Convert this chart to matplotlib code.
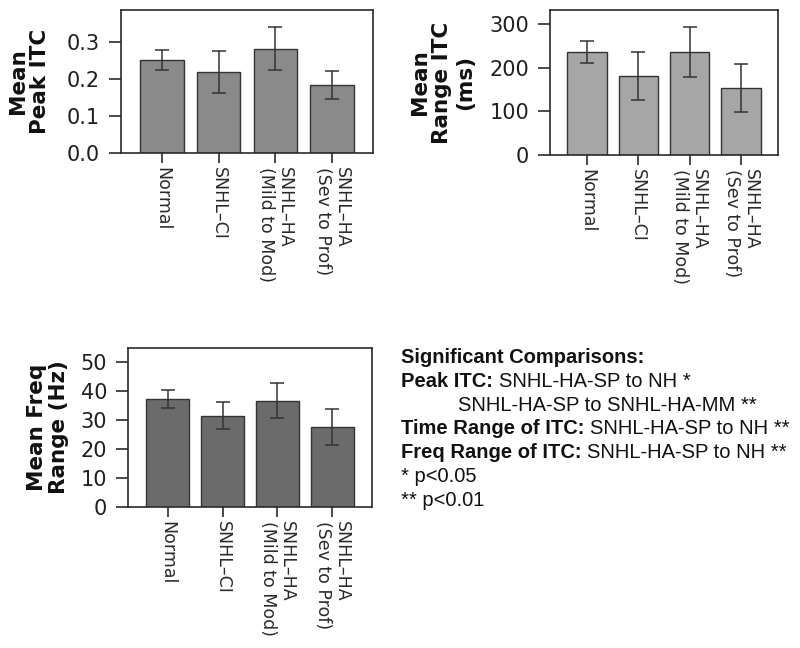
import matplotlib
matplotlib.use("Agg")
import matplotlib.pyplot as plt
from matplotlib.text import Annotation
import numpy as np

# ---------------- data ----------------
groups = ["Normal", "SNHL–CI", "SNHL–HA\n(Mild to Mod)", "SNHL–HA\n(Sev to Prof)"]

peak_itc = [0.252, 0.219, 0.282, 0.184]
peak_itc_err = [0.028, 0.057, 0.058, 0.038]

range_itc = [235, 181, 235, 154]
range_itc_err = [25, 55, 57, 55]

freq_range = [37.4, 31.6, 36.8, 27.8]
freq_range_err = [3.2, 4.6, 6.1, 6.2]

panel_ylabels = ["Mean\nPeak ITC", "Mean\nRange ITC\n(ms)", "Mean Freq\nRange (Hz)"]
panel_yticks = [[0.0, 0.1, 0.2, 0.3], [0, 100, 200, 300], [0, 10, 20, 30, 40, 50]]
panel_ylims = [(0, 0.387), (0, 332), (0, 55)]

note_lines = [
    ("Significant Comparisons:", ""),
    ("Peak ITC: ", "SNHL-HA-SP to NH *"),
    ("", "SNHL-HA-SP to SNHL-HA-MM **"),
    ("Time Range of ITC: ", "SNHL-HA-SP to NH **"),
    ("Freq Range of ITC: ", "SNHL-HA-SP to NH **"),
    ("", "* p<0.05"),
    ("", "** p<0.01"),
]

# ---------------- figure ----------------
W, H = 800, 648
fig = plt.figure(figsize=(W / 100, H / 100), dpi=100)

def px_axes(left, top, right, bottom):
    return fig.add_axes([left / W, 1 - bottom / H, (right - left) / W, (bottom - top) / H])

axes_px = [(121, 10, 373, 153), (550, 10, 778, 155), (128, 348, 372, 507)]
bar_colors = ["#8a8a8a", "#a6a6a6", "#6b6b6b"]
values = [peak_itc, range_itc, freq_range]
errors = [peak_itc_err, range_itc_err, freq_range_err]
label_x = [-0.282, -0.33, -0.24]

text_col = "#1f1f1f"
spine_col = "#2a2a2a"

for i in range(3):
    ax = px_axes(*axes_px[i])
    x = np.arange(len(groups))
    ax.bar(x, values[i], width=0.77, color=bar_colors[i], edgecolor="#333333",
           linewidth=1.0, zorder=2)
    ax.errorbar(x, values[i], yerr=errors[i], fmt="none", ecolor="#333333",
                elinewidth=1.1, capsize=5, capthick=1.1, zorder=3)
    ax.set_xlim(-0.72, 3.72)
    ax.set_ylim(*panel_ylims[i])
    ax.set_yticks(panel_yticks[i])
    ax.set_xticks(x)
    ax.set_xticklabels(groups, rotation=270, ha="center", va="top",
                       multialignment="left", fontsize=12.5, linespacing=1.05,
                       color=text_col, family="DejaVu Sans")
    ax.tick_params(axis="y", direction="out", length=9, width=1.2, pad=6,
                   labelsize=15, colors=spine_col, labelcolor=text_col)
    ax.tick_params(axis="x", direction="out", length=7.5, width=1.2, pad=2.5,
                   colors=spine_col)
    for s in ax.spines.values():
        s.set_linewidth(1.2)
        s.set_color(spine_col)
    ax.set_ylabel(panel_ylabels[i], fontsize=15.5, fontweight="bold",
                  family="DejaVu Sans", linespacing=1.15, color="#111111")
    ax.yaxis.set_label_coords(label_x[i], 0.5)

# ---------------- notes text ----------------
x0 = 401 / W
x_indent = 458 / W
base0 = 363
step = 23.8
fs = 14.5
for k, (bold, reg) in enumerate(note_lines):
    y = 1 - (base0 + k * step) / H
    if bold:
        t = fig.text(x0, y, bold, fontsize=fs, fontweight="bold",
                     family="Liberation Sans", va="baseline", ha="left", color="#111111")
        if reg:
            a = Annotation(reg, xy=(1, 0), xycoords=t, va="bottom", ha="left",
                           fontsize=fs, family="Liberation Sans", color="#111111")
            fig.add_artist(a)
    else:
        xx = x_indent if k == 2 else x0
        fig.text(xx, y, reg, fontsize=fs, family="Liberation Sans",
                 va="baseline", ha="left", color="#111111")

fig.savefig("out.png", dpi=100)
